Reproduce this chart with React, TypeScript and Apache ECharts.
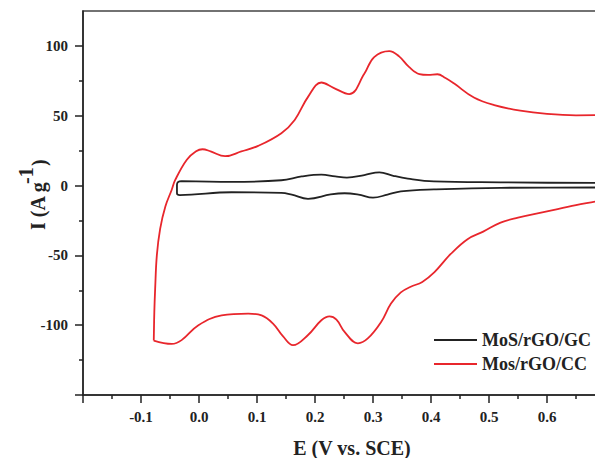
import React, { useEffect, useRef } from "react";
import * as echarts from "echarts";

const seriesNames = ["MoS/rGO/GC", "Mos/rGO/CC"];

// Black loop (MoS/rGO/GC): [E (V), I (A/g)]
const blackLoop: [number, number][] = [
  [-0.03, 3.1], [0.056, 2.6], [0.142, 3.8], [0.177, 6.5], [0.211, 7.8], [0.235, 6.5],
  [0.255, 5.7], [0.285, 7.5], [0.311, 9.5], [0.335, 7.0], [0.36, 5.0], [0.405, 3.0],
  [0.52, 2.3], [0.683, 1.9], [0.7, 1.9],
  [0.7, -1.3], [0.683, -1.4], [0.52, -1.6], [0.405, -2.8], [0.348, -4.2], [0.325, -6.5],
  [0.3, -8.7], [0.275, -6.5], [0.251, -5.5], [0.227, -6.4], [0.188, -9.5], [0.16, -6.5],
  [0.142, -5.2], [0.056, -4.8], [-0.033, -6.8], [-0.038, -5.5], [-0.038, 0.5],
  [-0.036, 2.6], [-0.03, 3.1],
];

// Red loop (Mos/rGO/CC)
const redLoop: [number, number][] = [
  [-0.078, -111], [-0.077, -90], [-0.0756, -74], [-0.0727, -50], [-0.067, -31],
  [-0.058, -15], [-0.047, -3], [-0.041, 4], [-0.021, 18.5], [-0.005, 24.5], [0.006, 26],
  [0.02, 24.5], [0.045, 21], [0.073, 24.4], [0.102, 28.4], [0.142, 37.5], [0.165, 47],
  [0.188, 63.5], [0.211, 73.8], [0.232, 70], [0.259, 65.5], [0.285, 80], [0.302, 92],
  [0.328, 96.2], [0.345, 92.5], [0.362, 85], [0.38, 79.8], [0.395, 79.2], [0.411, 79.7],
  [0.425, 77], [0.44, 73], [0.474, 63], [0.509, 57.6], [0.554, 53.6], [0.6, 51.3],
  [0.65, 50.3], [0.7, 50.5],
  [0.7, -10], [0.683, -11.5], [0.65, -14], [0.6, -18.5], [0.55, -23], [0.52, -26.5],
  [0.49, -33], [0.463, -38.4], [0.434, -49], [0.406, -62], [0.385, -69], [0.365, -72.5],
  [0.348, -76.5], [0.331, -84.5], [0.314, -97.7], [0.291, -109.5], [0.274, -113],
  [0.251, -104.8], [0.237, -96], [0.225, -93.7], [0.211, -96.5], [0.188, -107],
  [0.162, -114.3], [0.145, -108], [0.128, -99], [0.108, -93], [0.085, -91.7],
  [0.039, -93], [-0.001, -100], [-0.03, -110.7], [-0.047, -113.4], [-0.078, -111],
];

const yMajorTicks = [-150, -100, -50, 0, 50, 100];
const yLabelTicks = [-100, -50, 0, 50, 100];
const yMinorTicks = [-125, -75, -25, 25, 75];

const FONT = "Liberation Serif";
const AXIS_COLOR = "#222";

export default function App() {
  const ref = useRef<HTMLDivElement>(null);
  useEffect(() => {
    if (!ref.current) return;
    const chart = echarts.init(ref.current, undefined, { renderer: "svg" });
    const axisLine = { show: true, onZero: false, lineStyle: { color: AXIS_COLOR, width: 1.5 } };
    const labelStyle = { fontFamily: FONT, fontWeight: "bold" as const, fontSize: 15, color: AXIS_COLOR };
    chart.setOption({
      animation: false,
      backgroundColor: "#fff",
      grid: {
        left: 83, top: 11, width: 522, height: 384,
        outerBoundsMode: "none", containLabel: false,
        show: true, borderColor: "#444", borderWidth: 1.5,
      },
      xAxis: {
        type: "value",
        min: -0.2,
        max: 0.7,
        interval: 0.1,
        axisLine,
        axisTick: { show: true, length: 8, lineStyle: { color: AXIS_COLOR, width: 1.5 } },
        minorTick: { show: true, splitNumber: 2, length: 4, lineStyle: { color: AXIS_COLOR, width: 1.5 } },
        axisLabel: {
          ...labelStyle,
          margin: 14,
          formatter: (v: number) => (v < -0.15 || v > 0.65 ? "" : v.toFixed(1)),
        },
        splitLine: { show: false },
        minorSplitLine: { show: false },
      },
      yAxis: [
        {
          type: "value",
          min: -150,
          max: 125,
          interval: 25,
          position: "left",
          axisLine,
          axisTick: { show: true, length: 8, customValues: yMajorTicks, lineStyle: { color: AXIS_COLOR, width: 1.5 } },
          axisLabel: { ...labelStyle, margin: 15, customValues: yLabelTicks },
          splitLine: { show: false },
        },
        {
          type: "value",
          min: -150,
          max: 125,
          interval: 25,
          position: "left",
          axisLine: { show: false, onZero: false },
          axisTick: { show: true, length: 4, customValues: yMinorTicks, lineStyle: { color: AXIS_COLOR, width: 1.5 } },
          axisLabel: { show: false },
          splitLine: { show: false },
        },
      ],
      legend: {
        orient: "vertical",
        left: 429,
        top: 326,
        itemWidth: 43,
        itemHeight: 2,
        itemGap: 6,
        icon: "rect",
        textStyle: { fontFamily: FONT, fontWeight: "bold", fontSize: 18, color: AXIS_COLOR },
        data: seriesNames,
      },
      series: [
        {
          name: seriesNames[0],
          type: "line",
          data: blackLoop,
          symbol: "none",
          smooth: 0.4,
          lineStyle: { color: "#222", width: 1.8 },
          itemStyle: { color: "#222" },
        },
        {
          name: seriesNames[1],
          type: "line",
          data: redLoop,
          symbol: "none",
          smooth: 0.4,
          lineStyle: { color: "#e8262c", width: 1.8 },
          itemStyle: { color: "#e8262c" },
        },
      ],
      graphic: [
        {
          type: "text",
          x: 352,
          y: 448,
          style: { text: "E (V vs. SCE)", fontFamily: FONT, fontWeight: "bold", fontSize: 20, fill: AXIS_COLOR, align: "center", verticalAlign: "middle" },
        },
        {
          type: "text",
          x: 38,
          y: 230,
          rotation: Math.PI / 2,
          style: { text: "I (A g", fontFamily: FONT, fontWeight: "bold", fontSize: 20, fill: AXIS_COLOR, align: "left", verticalAlign: "middle" },
        },
        {
          type: "text",
          x: 26,
          y: 184,
          rotation: Math.PI / 2,
          style: { text: "-1", fontFamily: FONT, fontWeight: "bold", fontSize: 20, fill: AXIS_COLOR, align: "left", verticalAlign: "middle" },
        },
        {
          type: "text",
          x: 39,
          y: 166,
          rotation: Math.PI / 2,
          style: { text: ")", fontFamily: FONT, fontWeight: "bold", fontSize: 20, fill: AXIS_COLOR, align: "left", verticalAlign: "middle" },
        },
      ],
    });
    return () => chart.dispose();
  }, []);
  return <div ref={ref} style={{ position: "fixed", left: 0, top: 0, width: 595, height: 458 }} />;
}
